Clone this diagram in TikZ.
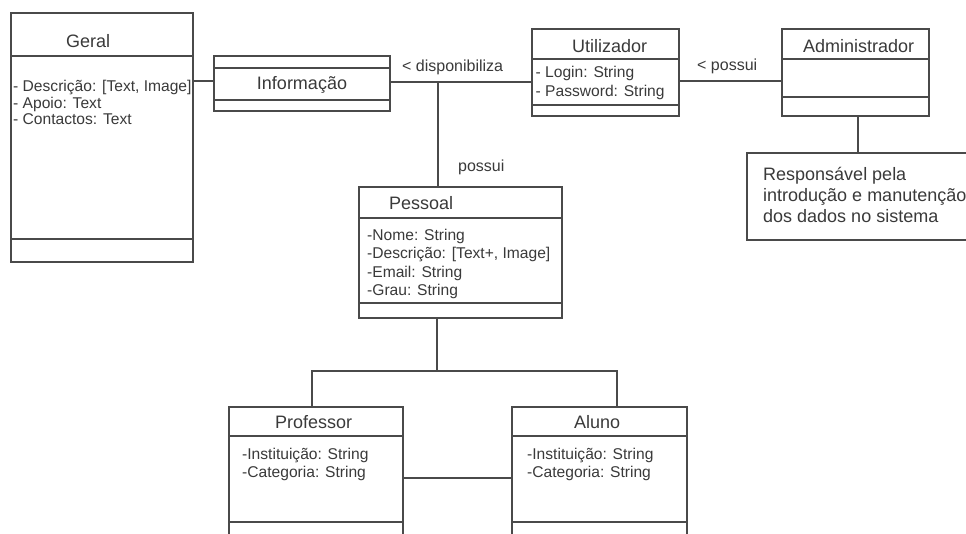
\documentclass[tikz,border=0pt]{standalone}
\usepackage{fontspec}
\setmainfont{Liberation Sans}
\definecolor{ln}{HTML}{4A4A4A}
\definecolor{txt}{HTML}{3A3A3A}
\newcommand{\clstitlefont}{\fontsize{18}{21}\selectfont}
\newcommand{\clsattrfont}{\fontsize{15.6}{18}\selectfont}
\newcommand{\clslabelfont}{\fontsize{16}{19}\selectfont}

\begin{document}
\begin{tikzpicture}[x=1pt,y=-1pt,
  cls/.style={draw=ln, line width=1.4pt, anchor=north west, inner sep=0pt, outer sep=0pt},
  sep/.style={draw=ln, line width=1.4pt},
  wire/.style={draw=ln, line width=1.4pt},
  ttl/.style={anchor=base west, inner sep=0pt, font=\clstitlefont, text=txt},
  attr/.style={anchor=base west, inner sep=0pt, font=\clsattrfont, text=txt},
  lbl/.style={anchor=base west, inner sep=0pt, font=\clslabelfont, text=txt},
]
\useasboundingbox (0,0) rectangle (966,533);
\clip (0,0) rectangle (966,533);
\fill[white] (0,0) rectangle (966,533);

% ---- class boxes ----
\node[cls, minimum width=182pt, minimum height=249pt] (geral) at (11,13) {};
\draw[sep] (geral.west |- 0,56) -- (geral.east |- 0,56);
\draw[sep] (geral.west |- 0,239) -- (geral.east |- 0,239);

\node[cls, minimum width=176pt, minimum height=55pt] (info) at (214,56) {};
\draw[sep] (info.west |- 0,68) -- (info.east |- 0,68);
\draw[sep] (info.west |- 0,100) -- (info.east |- 0,100);

\node[cls, minimum width=147pt, minimum height=87pt] (util) at (532,29) {};
\draw[sep] (util.west |- 0,59) -- (util.east |- 0,59);
\draw[sep] (util.west |- 0,105) -- (util.east |- 0,105);

\node[cls, minimum width=147pt, minimum height=87pt] (admin) at (782,29) {};
\draw[sep] (admin.west |- 0,59) -- (admin.east |- 0,59);
\draw[sep] (admin.west |- 0,97) -- (admin.east |- 0,97);

\node[cls, minimum width=240pt, minimum height=87pt] (note) at (747,153) {};

\node[cls, minimum width=203pt, minimum height=131pt] (pess) at (359,187) {};
\draw[sep] (pess.west |- 0,218) -- (pess.east |- 0,218);
\draw[sep] (pess.west |- 0,303) -- (pess.east |- 0,303);

\node[cls, minimum width=174pt, minimum height=140pt] (prof) at (229,407) {};
\draw[sep] (prof.west |- 0,436) -- (prof.east |- 0,436);
\draw[sep] (prof.west |- 0,522) -- (prof.east |- 0,522);

\node[cls, minimum width=175pt, minimum height=140pt] (aluno) at (512,407) {};
\draw[sep] (aluno.west |- 0,436) -- (aluno.east |- 0,436);
\draw[sep] (aluno.west |- 0,522) -- (aluno.east |- 0,522);

% ---- connectors ----
\coordinate (jtop) at (438,82);
\coordinate (jmid) at (437,371);
\coordinate (jl) at (312,371);
\coordinate (jr) at (617,371);
\draw[wire] (geral.east |- 0,81) -- (info.west |- 0,81);
\draw[wire] (info.east |- jtop) -- (util.west |- jtop);
\draw[wire] (jtop) -- (jtop |- pess.north);
\draw[wire] (util.east |- 0,81) -- (admin.west |- 0,81);
\draw[wire] (admin.south -| 858,0) -- (note.north -| 858,0);
\draw[wire] (pess.south -| jmid) -- (jmid);
\draw[wire] (prof.north -| jl) -- (jl) -- (jr) -- (aluno.north -| jr);
\draw[wire] (prof.east |- 0,478) -- (aluno.west |- 0,478);

% ---- texts ----
\node[ttl] (geralT) at (66,47) {Geral};
\node[attr] (geralA1) at (13,91.5) {- Descrição: [Text, Image]};
\node[attr] (geralA2) at (13,108) {- Apoio: Text};
\node[attr] (geralA3) at (13,124.5) {- Contactos: Text};

\node[ttl, anchor=base] (infoT) at (302,89.5) {Informação};
\node[lbl] (dispL) at (402,71) {< disponibiliza};

\node[ttl] (utilT) at (572,52) {Utilizador};
\node[attr] (utilA1) at (535.5,77.5) {- Login: String};
\node[attr] (utilA2) at (535.5,96.5) {- Password: String};
\node[lbl] (possL1) at (697,70.5) {< possui};

\node[ttl] (adminT) at (803,52) {Administrador};
\node[ttl] (noteT1) at (763,180) {Responsável pela};
\node[ttl] (noteT2) at (763,201) {introdução e manutenção};
\node[ttl] (noteT3) at (763,222) {dos dados no sistema};

\node[lbl] (possL2) at (458,171.5) {possui};

\node[ttl] (pessT) at (389,209.5) {Pessoal};
\node[attr] (pessA1) at (367,240) {-Nome: String};
\node[attr] (pessA2) at (367,258.5) {-Descrição: [Text+, Image]};
\node[attr] (pessA3) at (367,277) {-Email: String};
\node[attr] (pessA4) at (367,295.5) {-Grau: String};

\node[ttl] (profT) at (275,428.5) {Professor};
\node[attr] (profA1) at (242,459.5) {-Instituição: String};
\node[attr] (profA2) at (242,477) {-Categoria: String};

\node[ttl] (alunoT) at (574,428.5) {Aluno};
\node[attr] (alunoA1) at (527,459.5) {-Instituição: String};
\node[attr] (alunoA2) at (527,477) {-Categoria: String};
\end{tikzpicture}
\end{document}
